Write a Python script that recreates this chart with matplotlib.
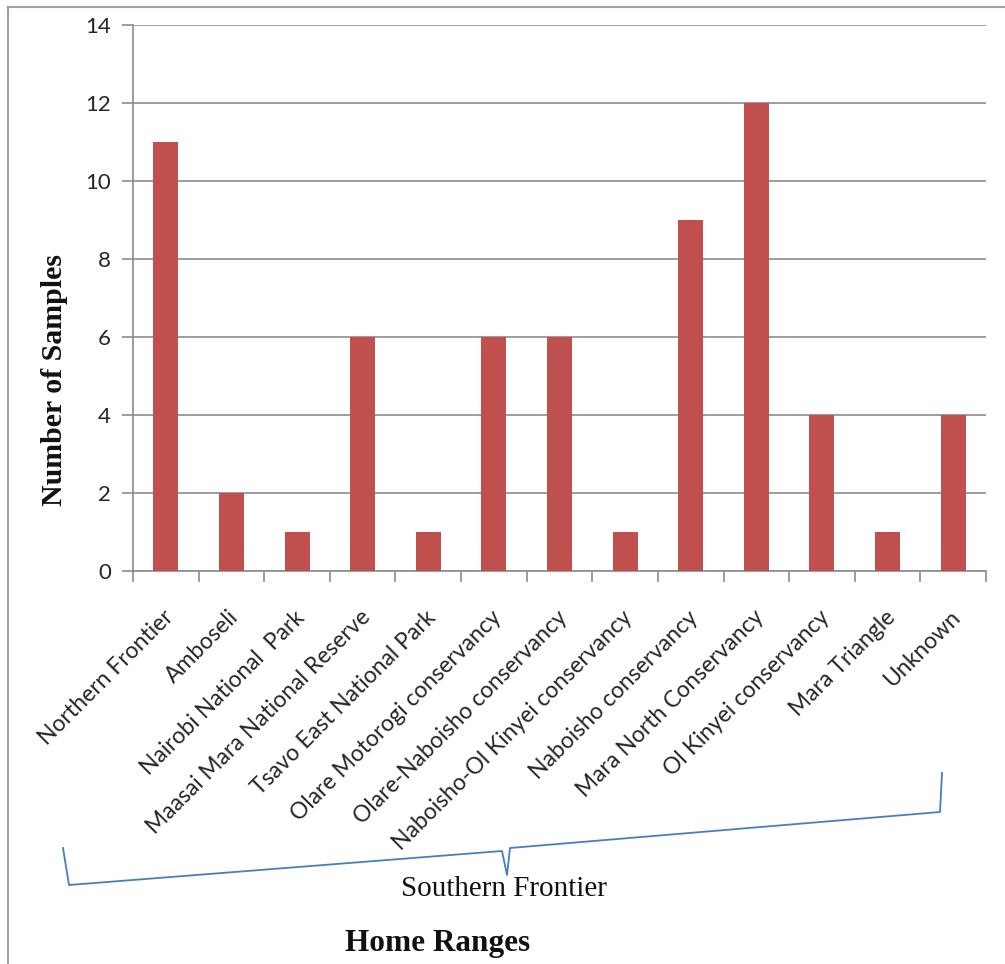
import matplotlib
matplotlib.use("Agg")
import matplotlib.pyplot as plt
from matplotlib.lines import Line2D

categories = [
    "Northern Frontier", "Amboseli", "Nairobi National  Park",
    "Maasai Mara National Reserve", "Tsavo East National Park",
    "Olare Motorogi conservancy", "Olare-Naboisho conservancy",
    "Naboisho-Ol Kinyei conservancy", "Naboisho conservancy",
    "Mara North Conservancy", "Ol Kinyei conservancy", "Mara Triangle",
    "Unknown",
]
samples = [11, 2, 1, 6, 1, 6, 6, 1, 9, 12, 4, 1, 4]
y_ticks = [0, 2, 4, 6, 8, 10, 12, 14]

W, H = 1005, 964
fig = plt.figure(figsize=(W / 100, H / 100), dpi=100)
fig.patch.set_facecolor("white")

# axes box in pixel units
left, right, top, bottom = 133, 986, 25, 571
ax = fig.add_axes([left / W, 1 - bottom / H, (right - left) / W, (bottom - top) / H])

grid_c = "#8c8c8c"
x = list(range(len(categories)))
ax.bar(x, samples, width=0.38, color="#C0504D", zorder=3)
ax.set_xlim(-0.5, len(categories) - 0.5)
ax.set_ylim(0, 14)
ax.set_yticks(y_ticks)
ax.set_yticklabels([str(v) for v in y_ticks], fontsize=16, family="Lato", color="#262626")
ax.yaxis.grid(True, color=grid_c, linewidth=1.2, zorder=0)
ax.set_axisbelow(True)

for s in ["top", "right"]:
    ax.spines[s].set_visible(False)
for s in ["left", "bottom"]:
    ax.spines[s].set_color(grid_c)
    ax.spines[s].set_linewidth(1.2)

# category ticks sit on the boundaries between bars
ax.set_xticks([i - 0.5 for i in range(len(categories) + 1)])
ax.set_xticklabels([])
ax.tick_params(axis="x", length=8, width=1.2, color=grid_c, direction="out")
ax.tick_params(axis="y", length=8, width=1.2, color=grid_c, direction="out", pad=8)

for i, name in enumerate(categories):
    ax.annotate(name, xy=(i, 0), xycoords=("data", "axes fraction"),
                xytext=(3, -31), textcoords="offset points",
                rotation=45, rotation_mode="anchor", ha="right", va="center",
                fontsize=16.5, family="Lato", color="#262626")


def fx(px):
    return px / W


def fy(py):
    return 1 - py / H


fig.text(fx(54), fy(380), "Number of Samples", rotation=90, ha="center", va="center",
         fontsize=21.5, fontweight="bold", family="Liberation Serif", color="#111111")

# brace grouping the Southern Frontier ranges
brace = [(63, 848), (69, 885), (502, 851), (507, 875), (510, 848), (940, 812), (942, 773)]
fig.add_artist(Line2D([fx(p[0]) for p in brace], [fy(p[1]) for p in brace],
                      color="#4a7ebb", linewidth=1.3, transform=fig.transFigure))

fig.text(fx(504), fy(889), "Southern Frontier", ha="center", va="center",
         fontsize=21, family="Liberation Serif", color="#111111")
fig.text(fx(438), fy(943), "Home Ranges", ha="center", va="center",
         fontsize=22.5, fontweight="bold", family="Liberation Serif", color="#111111")

# outer frame lines
fig.add_artist(Line2D([fx(8), fx(8)], [fy(7), 0], color="#a0a0a0", linewidth=1.5,
                      transform=fig.transFigure))
fig.add_artist(Line2D([fx(8), 1], [fy(7), fy(7)], color="#a0a0a0", linewidth=1.5,
                      transform=fig.transFigure))

fig.savefig("out.png", dpi=100)
